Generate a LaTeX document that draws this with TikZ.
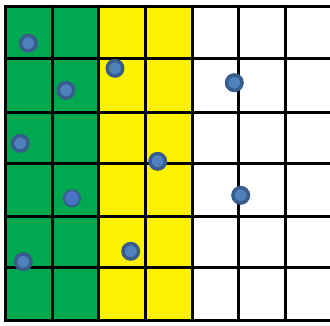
\documentclass[tikz,border=0pt]{standalone}
\definecolor{gridgreen}{RGB}{0,168,80}
\definecolor{dotin}{RGB}{79,129,189}
\definecolor{dotout}{RGB}{56,93,140}
\begin{document}
\begin{tikzpicture}[x=1pt,y=-1pt,
  gridline/.style={line width=3pt,black},
  dot/.style={circle,inner sep=0pt,minimum size=15.5pt,fill=dotin,draw=dotout,line width=3.5pt},
  dotthin/.style={circle,inner sep=0pt,minimum size=16pt,fill=dotin!90!blue,draw=dotout,line width=2pt}]
\useasboundingbox (0,0) rectangle (330,325);
\clip (0,0) rectangle (330,325);
\fill[white] (0,0) rectangle (330,325);
\fill[gridgreen] (5.5,6) rectangle (98.8,320.5);
\fill[yellow] (98.8,6) rectangle (192.1,320.5);
\foreach \x in {5.5,52.2,98.8,145.5,192.1,238.8,285.4,332}
  \draw[gridline] (\x,4.5) -- (\x,322);
\foreach \y in {6,58,112,163.5,216,267.5,320.5}
  \draw[gridline] (4,\y) -- (334,\y);
\node[dot] (d1) at (28.3,43.3) {};
\node[dot] (d2) at (66,90.3) {};
\node[dot] (d3) at (115,68.3) {};
\node[dot] (d4) at (234.3,82.7) {};
\node[dot] (d5) at (20.3,143.3) {};
\node[dot] (d6) at (157.7,161.3) {};
\node[dotthin] (d7) at (72,198.3) {};
\node[dot] (d8) at (240.7,195.3) {};
\node[dot] (d9) at (130.7,251.3) {};
\node[dot] (d10) at (23.3,261.7) {};
\end{tikzpicture}
\end{document}
